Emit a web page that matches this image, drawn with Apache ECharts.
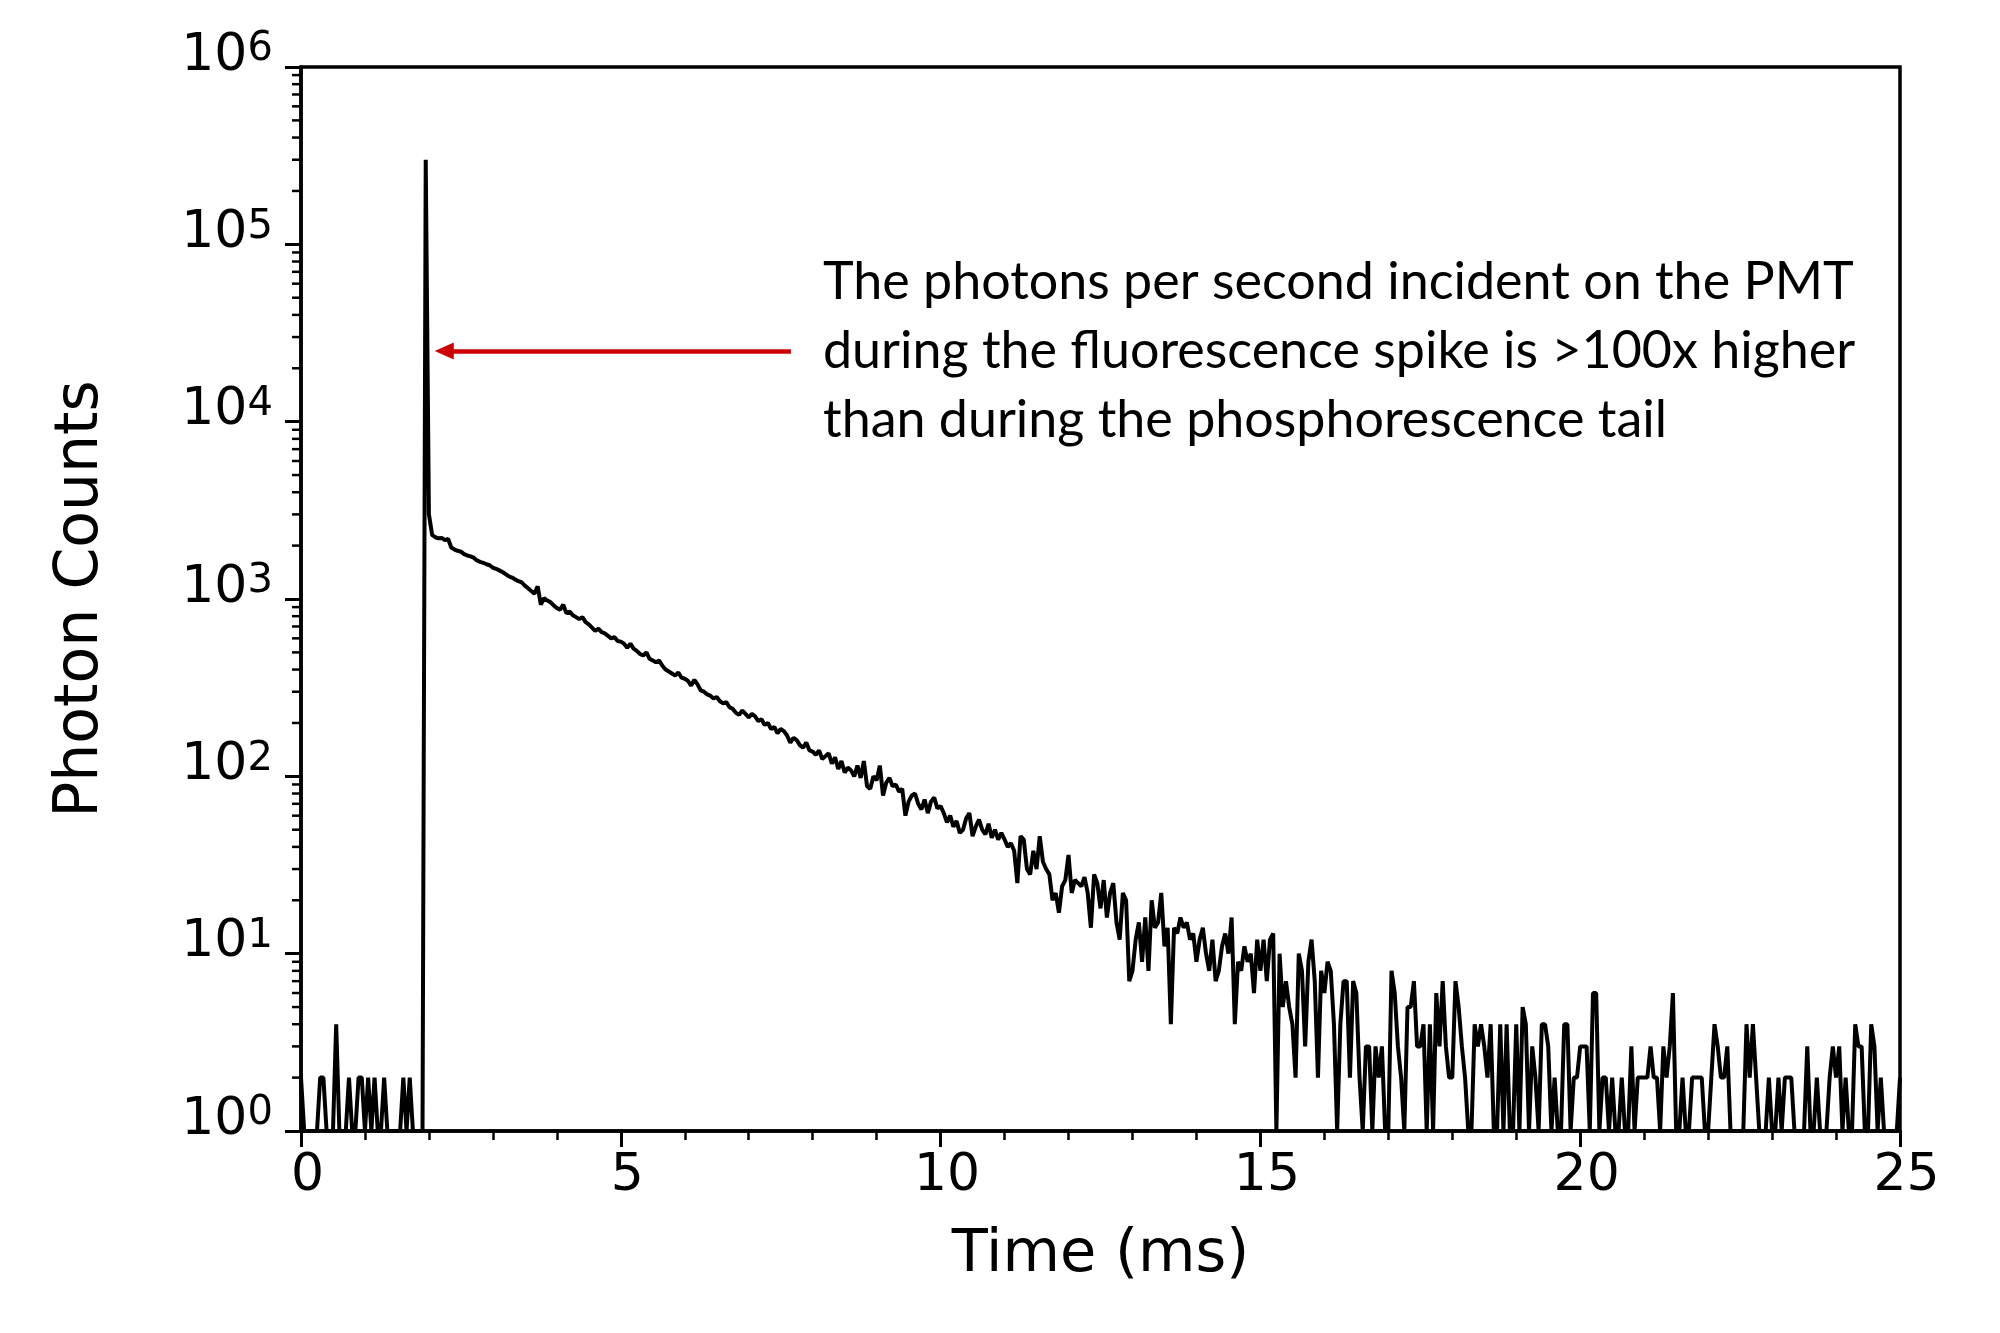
<!DOCTYPE html>
<html>
<head>
<meta charset="utf-8">
<script src="https://cdn.jsdelivr.net/npm/echarts@6/dist/echarts.min.js"></script>
<style>
  html, body { margin: 0; padding: 0; background: #fff; }
  #chart { width: 2000px; height: 1333px; }
</style>
</head>
<body>
<div id="chart"></div>
<script>
// histogram bins, 0.05 ms wide, starting at t = 0
const binWidth = 0.05;
const counts = [
  2, 1, 1, 1, 1, 1, 2, 2, 1, 1, 1, 4, 1, 1, 1, 2, 1, 1, 2, 2,
  1, 2, 1, 2, 1, 1, 2, 1, 1, 1, 1, 1, 2, 1, 2, 1, 1, 1, 1, 300000,
  3000, 2300, 2230, 2200, 2210, 2150, 2180, 1950, 1900, 1870, 1850, 1790, 1760, 1740, 1710, 1650, 1620, 1600, 1570, 1550,
  1500, 1480, 1450, 1420, 1380, 1340, 1320, 1290, 1260, 1240, 1190, 1150, 1110, 1070, 1180, 930, 1010, 980, 960, 920,
  890, 870, 930, 830, 850, 810, 790, 770, 790, 740, 720, 690, 660, 680, 650, 640, 620, 600, 610, 580,
  575, 560, 530, 560, 525, 510, 490, 480, 500, 460, 450, 440, 450, 420, 400, 390, 380, 370, 385, 360,
  355, 345, 325, 350, 330, 305, 300, 290, 285, 275, 280, 265, 258, 262, 245, 240, 228, 222, 235, 225,
  215, 225, 218, 205, 210, 195, 200, 185, 190, 175, 185, 180, 170, 155, 165, 160, 150, 145, 155, 140,
  138, 132, 140, 125, 130, 135, 118, 128, 110, 122, 105, 112, 108, 100, 115, 98, 122, 88, 85, 100,
  95, 115, 78, 92, 98, 88, 90, 82, 85, 60, 72, 78, 80, 70, 65, 74, 62, 72, 76, 66,
  68, 62, 55, 60, 52, 56, 48, 50, 58, 62, 46, 52, 57, 50, 47, 54, 45, 50, 44, 48,
  44, 40, 42, 38, 25, 46, 44, 30, 28, 38, 30, 46, 33, 30, 28, 20, 22, 17, 24, 26,
  36, 22, 26, 25, 24, 27, 22, 14, 28, 25, 18, 26, 16, 22, 25, 15, 12, 22, 20, 7,
  8, 12, 15, 9, 16, 8, 20, 14, 15, 22, 11, 14, 4, 14, 13, 16, 14, 15, 12, 13,
  9, 12, 14, 10, 8, 12, 7, 8, 11, 13, 10, 16, 4, 9, 8, 11, 9, 10, 6, 12,
  8, 12, 7, 12, 13, 1, 10, 5, 7, 5, 4, 2, 10, 8, 3, 9, 12, 7, 2, 8,
  6, 9, 8, 4, 1, 4, 7, 7, 2, 7, 6, 2, 1, 3, 3, 1, 3, 2, 3, 1,
  1, 8, 6, 3, 2, 1, 5, 5, 7, 3, 3, 4, 1, 4, 1, 6, 3, 7, 3, 2,
  2, 7, 5, 3, 2, 1, 1, 4, 3, 4, 3, 2, 4, 1, 1, 4, 1, 4, 1, 1,
  4, 1, 5, 4, 1, 3, 2, 1, 4, 4, 3, 1, 2, 1, 1, 4, 4, 1, 2, 2,
  3, 3, 3, 1, 6, 6, 1, 2, 2, 1, 2, 1, 1, 2, 1, 1, 3, 1, 2, 2,
  2, 2, 3, 2, 2, 1, 3, 2, 3, 6, 1, 1, 2, 1, 1, 2, 2, 2, 2, 1,
  1, 2, 4, 3, 2, 2, 3, 1, 1, 1, 1, 1, 4, 2, 4, 2, 1, 1, 1, 2,
  1, 1, 2, 1, 2, 2, 2, 1, 1, 1, 1, 3, 1, 1, 2, 1, 1, 1, 2, 3,
  2, 3, 1, 2, 1, 1, 4, 3, 3, 1, 1, 4, 3, 1, 2, 1, 1, 1, 1, 1,
  2
];

// axes
const xTicks = [0, 5, 10, 15, 20, 25];
const yDecades = [1, 10, 100, 1000, 10000, 100000, 1000000];
const minorMultipliers = [2, 3, 4, 5, 6, 7, 8, 9];

// annotation
const noteLines = [
  'The photons per second incident on the PMT',
  'during the fluorescence spike is >100x higher',
  'than during the phosphorescence tail'
];
const arrowFrom = [7.66, 25000];
const arrowTo = [2.24, 25000];

const seriesData = counts.map((c, i) => [+(i * binWidth).toFixed(2), c]);
const minorTickData = [];
yDecades.slice(0, -1).forEach(d => minorMultipliers.forEach(m => minorTickData.push([0, d * m])));

const font = 'DejaVu Sans';
const chart = echarts.init(document.getElementById('chart'));

chart.setOption({
  animation: false,
  backgroundColor: '#fff',
  grid: {
    left: 301, top: 67, right: 100, bottom: 202,
    show: true, borderColor: '#000', borderWidth: 3.5, backgroundColor: 'transparent'
  },
  xAxis: {
    type: 'value',
    min: xTicks[0], max: xTicks[xTicks.length - 1], interval: 5,
    name: 'Time (ms)', nameLocation: 'middle', nameGap: 95,
    nameTextStyle: { fontFamily: font, fontSize: 59, color: '#000' },
    axisLine: { show: true, lineStyle: { color: '#000', width: 3.5 } },
    axisTick: { show: true, length: 16, lineStyle: { color: '#000', width: 3 } },
    minorTick: { show: true, splitNumber: 5, length: 9, lineStyle: { color: '#000', width: 2.5 } },
    splitLine: { show: false },
    minorSplitLine: { show: false },
    axisLabel: { fontFamily: font, fontSize: 52, color: '#000', margin: 19, padding: [0, 0, 0, 13] }
  },
  yAxis: {
    type: 'log', logBase: 10,
    min: yDecades[0], max: yDecades[yDecades.length - 1], splitNumber: 6,
    name: 'Photon Counts', nameLocation: 'middle', nameGap: 190,
    nameTextStyle: { fontFamily: font, fontSize: 60, color: '#000' },
    axisLine: { show: true, lineStyle: { color: '#000', width: 3.5 } },
    axisTick: { show: true, length: 16, lineStyle: { color: '#000', width: 3 } },
    splitLine: { show: false },
    axisLabel: {
      margin: 27, color: '#000',
      formatter: v => '{b|10}{s|' + Math.round(Math.log10(v)) + '}{p| }',
      rich: {
        b: { fontFamily: font, fontSize: 52, lineHeight: 62, verticalAlign: 'top', color: '#000' },
        s: { fontFamily: font, fontSize: 40, lineHeight: 28, verticalAlign: 'top', color: '#000' },
        p: { fontSize: 4, lineHeight: 74 }
      }
    }
  },
  series: [
    {
      type: 'line',
      data: seriesData,
      showSymbol: false,
      symbol: 'none',
      sampling: false,
      lineStyle: { color: '#000', width: 4 },
      z: 3,
      markLine: {
        silent: true,
        symbol: ['none', 'triangle'],
        symbolSize: [17, 19],
        label: { show: false },
        lineStyle: { color: '#cc0000', width: 4.5, type: 'solid' },
        data: [[{ coord: arrowFrom }, { coord: arrowTo }]]
      }
    },
    {
      // log minor ticks at 2..9 of each decade, outside the left axis
      type: 'custom',
      silent: true,
      clip: false,
      data: minorTickData,
      renderItem: (params, api) => {
        const p = api.coord([0, api.value(1)]);
        return {
          type: 'line',
          shape: { x1: p[0] - 9, y1: p[1], x2: p[0], y2: p[1] },
          style: { stroke: '#000', lineWidth: 2.5 }
        };
      },
      z: 5
    }
  ],
  graphic: [
    {
      type: 'text',
      left: 823, top: 248,
      style: {
        text: noteLines.join('\n'),
        font: '52px Lato',
        lineHeight: 69,
        fill: '#000'
      }
    }
  ]
});
</script>
</body>
</html>
